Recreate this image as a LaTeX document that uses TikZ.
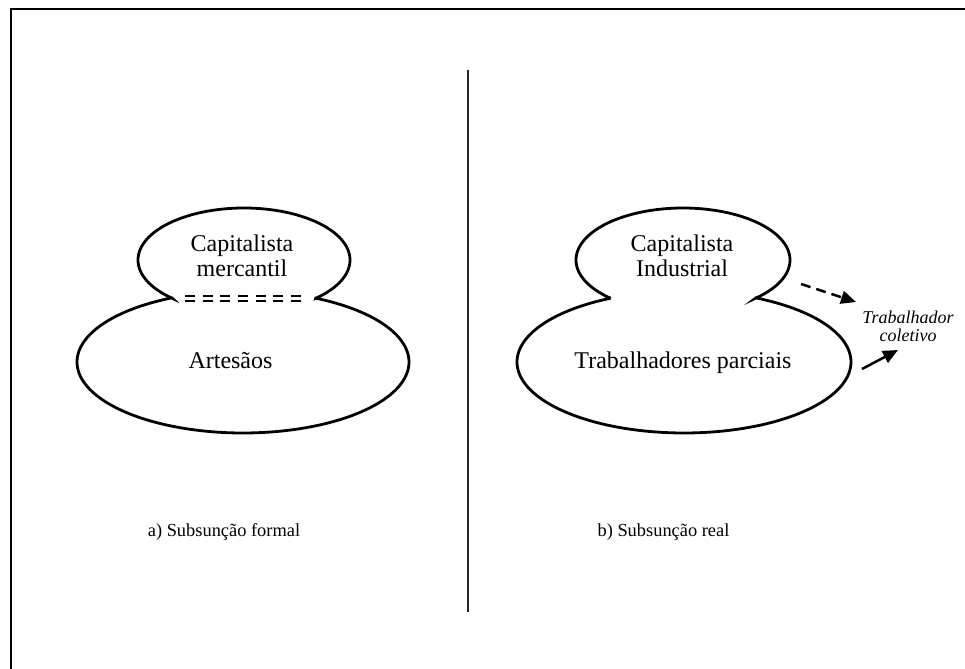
\documentclass[tikz,border=0pt]{standalone}
\usepackage{fontspec}
\setmainfont{Liberation Serif}
\usetikzlibrary{arrows.meta}
\begin{document}
\begin{tikzpicture}[x=0.5pt,y=-0.5pt,
  outline/.style={line width=1.4pt, line join=miter},
  frameline/.style={line width=1.1pt},
  divider/.style={line width=0.6pt, black!85},
  eqdash/.style={line width=1.1pt, dash pattern=on 5pt off 3.83pt},
  lbl/.style={font=\fontsize{12}{12.5}\selectfont, align=center, inner sep=0pt},
  ital/.style={font=\fontsize{9}{9}\selectfont\itshape, align=center, inner sep=0pt},
  capt/.style={font=\fontsize{9.2}{10}\selectfont, inner sep=0pt},
  arr/.style={line width=1.25pt, -{Triangle[length=7.5pt,width=6.5pt]}},
  dasharr/.style={arr, dash pattern=on 5pt off 3pt}]
\useasboundingbox (0,0) rectangle (965,669);
% frame and divider
\draw[frameline] (11,669) -- (11,9) -- (965,9);
\draw[divider] (468,70) -- (468,612);
% left shape
\draw[outline] plot[domain=132.6:407.4, samples=140] ({244+106*cos(\x)},{260+52*sin(\x)})
  -- plot[domain=-64:244.6, samples=160] ({243+166*cos(\x)},{362+71*sin(\x)}) -- cycle;
\fill[white] (179,291) rectangle (308,305);
\draw[eqdash] (185,296) -- (301,296);
\draw[eqdash] (185,300.8) -- (301,300.8);
% right shape
\draw[outline] plot[domain=132.6:407.4, samples=140] ({683+107*cos(\x)},{260+52*sin(\x)})
  -- plot[domain=-64.5:243.9, samples=160] ({684+167*cos(\x)},{362+71*sin(\x)}) -- cycle;
% texts
\node[lbl] (capL) at (242,255.5) {Capitalista\\mercantil};
\node[lbl] (art) at (230.5,361) {Artesãos};
\node[lbl] (capR) at (682,255.5) {Capitalista\\Industrial};
\node[lbl] (trab) at (683,363) {Trabalhadores parciais};
\node[ital] (col) at (908,326) {Trabalhador\\coletivo};
\node[capt] (ca) at (224,532) {a) Subsunção formal};
\node[capt] (cb) at (663.5,532) {b) Subsunção real};
% arrows
\coordinate (d1) at (801,284);
\coordinate (d2) at (856,302);
\coordinate (s1) at (862,369);
\coordinate (s2) at (898,350);
\draw[dasharr] (d1) -- (d2);
\draw[arr] (s1) -- (s2);
\end{tikzpicture}
\end{document}
